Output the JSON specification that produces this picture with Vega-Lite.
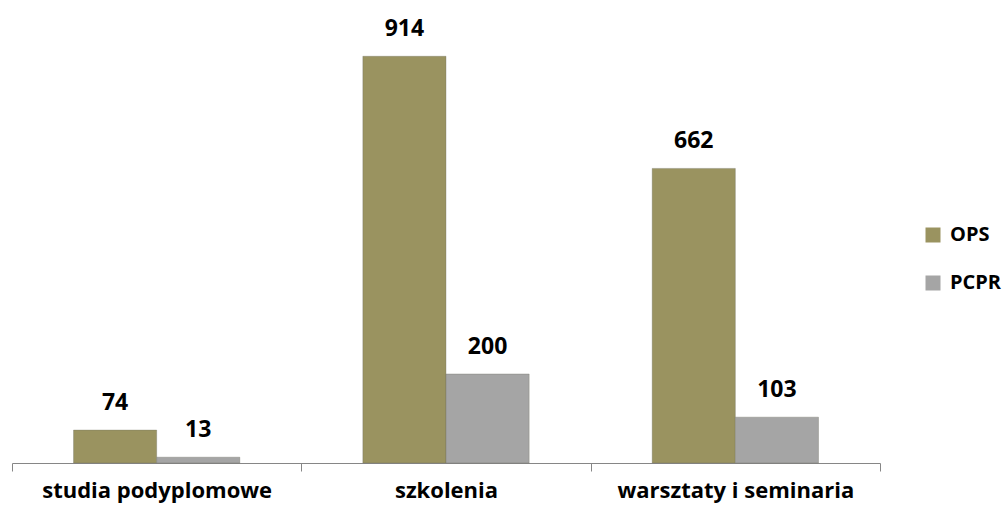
{
  "$schema": "https://vega.github.io/schema/vega-lite/v6.json",
  "autosize": "none",
  "width": 868,
  "height": 445,
  "padding": {"left": 12, "top": 18, "right": 123, "bottom": 45},
  "background": "white",
  "config": {"view": {"stroke": null}, "font": "Open Sans"},
  "data": {"values": [
    {"category": "studia podyplomowe", "series": "OPS", "value": 74},
    {"category": "studia podyplomowe", "series": "PCPR", "value": 13},
    {"category": "szkolenia", "series": "OPS", "value": 914},
    {"category": "szkolenia", "series": "PCPR", "value": 200},
    {"category": "warsztaty i seminaria", "series": "OPS", "value": 662},
    {"category": "warsztaty i seminaria", "series": "PCPR", "value": 103}
  ]},
  "encoding": {
    "x": {"field": "category", "type": "nominal", "sort": null,
      "scale": {"paddingInner": 0, "paddingOuter": 0},
      "axis": {"title": null, "labelAngle": 0, "labelFontSize": 22, "labelFontWeight": "bold", "labelColor": "black", "labelLimit": 0,
        "domainColor": "#868686", "tickColor": "#868686", "tickSize": 8, "tickBand": "extent", "labelPadding": 9}},
    "xOffset": {"field": "series", "type": "nominal", "scale": {"paddingInner": 0, "paddingOuter": 0.74}},
    "y": {"field": "value", "type": "quantitative", "scale": {"domain": [0, 1000]}, "axis": null}
  },
  "layer": [
    {"mark": {"type": "bar", "stroke": "#6f6f60", "strokeOpacity": 0.35, "strokeWidth": 1},
     "encoding": {
      "color": {"field": "series", "type": "nominal",
        "scale": {"domain": ["OPS", "PCPR"], "range": ["#9A9360", "#A5A5A5"]},
        "legend": {"title": null, "orient": "none", "legendX": 911, "legendY": 207, "symbolType": "square", "symbolSize": 225,
          "labelFontSize": 20, "labelFontWeight": "bold", "labelColor": "black", "rowPadding": 28, "labelOffset": 7, "symbolStrokeWidth": 0}}
    }},
    {"mark": {"type": "text", "baseline": "alphabetic", "dy": -20, "fontSize": 23, "fontWeight": "bold", "color": "black"},
     "encoding": {"text": {"field": "value", "type": "quantitative"}}}
  ]
}
